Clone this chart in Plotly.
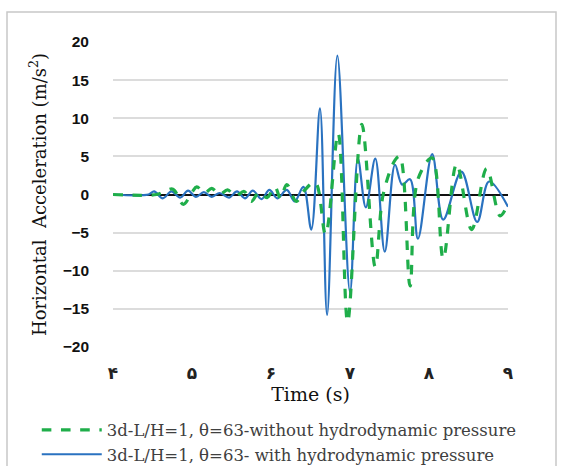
import plotly.graph_objects as go

# ---- data ----
t_with = [4.0, 4.45, 4.52, 4.63, 4.74, 4.85, 4.95, 5.05, 5.15, 5.25, 5.35, 5.47, 5.57,
          5.67, 5.77, 5.88, 5.98, 6.08, 6.20, 6.30, 6.41, 6.51, 6.62, 6.71, 6.84, 7.00,
          7.10, 7.20, 7.32, 7.44, 7.57, 7.66, 7.76, 7.86, 8.04, 8.18, 8.41, 8.61, 8.76, 9.0]
a_with = [0.0, 0.0, 0.4, -0.5, 0.4, -0.4, 0.5, -0.3, 0.3, -0.3, 0.2, -0.4, 0.4,
          -0.5, 0.5, -0.6, 0.6, -0.5, 0.6, -0.9, 1.0, -4.6, 11.3, -15.8, 18.2, -12.8,
          4.7, -1.7, 4.7, -7.5, 3.9, 1.3, 2.0, -5.8, 5.3, -3.3, 3.0, -3.6, 1.7, -1.6]

t_without = [4.0, 4.55, 4.65, 4.76, 4.89, 5.0, 5.06, 5.16, 5.25, 5.35, 5.45, 5.55, 5.66,
             5.75, 5.85, 5.95, 6.05, 6.12, 6.20, 6.32, 6.42, 6.56, 6.69, 6.85, 6.97, 7.15,
             7.32, 7.42, 7.57, 7.63, 7.76, 7.86, 8.04, 8.18, 8.35, 8.54, 8.73, 8.90, 9.0]
a_without = [0.0, 0.0, 0.4, 0.7, -1.3, 0.3, 1.0, 0.2, 0.8, 0.0, 0.6, -0.2, 0.4,
             -0.9, 0.3, -0.4, 1.0, -0.5, 1.3, -0.9, 0.5, 1.6, -5.2, 8.0, -16.7, 9.2,
             -9.5, 0.0, 4.5, 5.0, -12.0, 2.0, 4.8, -8.4, 4.0, -4.6, 3.4, -2.8, -1.2]

x_ticks = [4, 5, 6, 7, 8, 9]
x_tick_labels = ["۴", "۵", "۶", "۷", "۸", "۹"]
y_ticks = [-20, -15, -10, -5, 0, 5, 10, 15, 20]

name_without = "3d-L/H=1, θ=63-without hydrodynamic pressure"
name_with = "3d-L/H=1, θ=63- with hydrodynamic pressure"

serif = "DejaVu Serif, Liberation Serif, serif"

fig = go.Figure()
fig.add_trace(go.Scatter(
    x=t_with, y=a_with, mode="lines", name=name_with, legendrank=2,
    line=dict(color="#2a72c0", width=2.2, shape="spline", smoothing=1.0)))
fig.add_trace(go.Scatter(
    x=t_without, y=a_without, mode="lines", name=name_without, legendrank=1,
    line=dict(color="#1fae4a", width=3.2, dash="dash", shape="spline", smoothing=1.0)))

fig.update_layout(
    width=566, height=466,
    margin=dict(l=113, r=58, t=42, b=119, autoexpand=False),
    paper_bgcolor="white", plot_bgcolor="white",
    showlegend=True,
    legend=dict(x=-0.193, y=-0.215, xanchor="left", yanchor="top",
                orientation="v", font=dict(family=serif, size=16.5, color="#404040"),
                tracegroupgap=0, itemwidth=60, bgcolor="rgba(0,0,0,0)"),
    xaxis=dict(range=[4, 9], tickvals=x_ticks, ticktext=x_tick_labels,
               showgrid=False, zeroline=False, showline=False, ticks="",
               ticklabelstandoff=14, automargin=False,
               tickfont=dict(family="DejaVu Sans, sans-serif", size=17, color="#222222", weight="bold"),
               title=dict(text="Time (s)", font=dict(family=serif, size=19, color="#111111"),
                          standoff=5)),
    yaxis=dict(range=[-20, 20], tickvals=y_ticks,
               showgrid=True, gridcolor="#dcdcdc", gridwidth=1.5,
               zeroline=True, zerolinecolor="#111111", zerolinewidth=2,
               showline=False, ticks="", ticklabelstandoff=23, automargin=False,
               tickfont=dict(family="Liberation Sans, Arial, sans-serif", size=15.5, color="#111111", weight="bold"),
               title=dict(text="Horizontal  Acceleration (m/s<sup>2</sup>)",
                          font=dict(family=serif, size=18, color="#111111"), standoff=11)),
)

# outer frame around the chart
fig.add_shape(type="rect", xref="paper", yref="paper",
              x0=(7 - 113) / 395, x1=(556 - 113) / 395,
              y0=(347 - 470) / 305, y1=(347 - 12) / 305,
              line=dict(color="#c8c8c8", width=1.5), layer="below")

fig.write_html("out.html", config={"displayModeBar": False},
               post_script="document.body.style.margin='0';document.body.style.overflow='hidden';")
